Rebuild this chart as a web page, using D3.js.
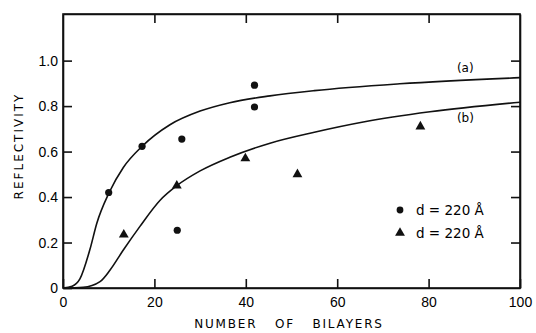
<!DOCTYPE html>
<html>
<head>
<meta charset="utf-8">
<script src="https://cdn.jsdelivr.net/npm/d3@7"></script>
<style>
  body { margin: 0; background: #fff; }
  svg { display: block; font-family: "DejaVu Sans", sans-serif; }
</style>
</head>
<body>
<svg id="chart" width="536" height="333"></svg>
<script>
// points
const circleX = [10, 17.3, 26, 25, 41.9, 41.9];
const circleY = [0.42, 0.623, 0.655, 0.254, 0.796, 0.892];
const triX = [13.3, 24.9, 39.9, 51.3, 78.2];
const triY = [0.235, 0.45, 0.57, 0.50, 0.71];

// fitted curves
const curveAX = [0, 2, 3.7, 5.9, 7.4, 10.1, 13.2, 17.3, 23.4, 30, 36.5, 45.3, 55, 73.7, 100];
const curveAY = [0, 0.008, 0.04, 0.17, 0.285, 0.42, 0.53, 0.623, 0.718, 0.778, 0.815, 0.845, 0.868, 0.898, 0.925];
const curveBX = [0, 4.4, 8.1, 10.3, 13.2, 16.8, 21.2, 24.9, 30, 36.5, 45.3, 55, 65.7, 80.3, 100];
const curveBY = [0, 0.003, 0.028, 0.079, 0.167, 0.27, 0.385, 0.45, 0.515, 0.575, 0.637, 0.685, 0.73, 0.775, 0.817];

const xTicks = [0, 20, 40, 60, 80, 100];
const yTicks = [0, 0.2, 0.4, 0.6, 0.8, 1.0];

const width = 536;
const height = 333;
const marginTop = 14;
const marginRight = 16;
const marginBottom = 45;
const marginLeft = 63;

const svg = d3.select("#chart");

const x = d3.scaleLinear()
  .domain([0, 100])
  .range([marginLeft, width - marginRight]);

const y = d3.scaleLinear()
  .domain([0, 1.205])
  .range([height - marginBottom, marginTop]);

const tickLen = 9;
const tickFmt = d => d === 0 ? "0" : d3.format(".1f")(d);

// bottom axis, ticks pointing inward
svg.append("g")
  .attr("transform", `translate(0,${height - marginBottom})`)
  .call(d3.axisBottom(x).tickValues(xTicks).tickSize(-tickLen).tickPadding(9).tickSizeOuter(0))
  .call(g => g.selectAll("text").attr("font-size", 14).attr("fill", "#000"));

// top axis
svg.append("g")
  .attr("transform", `translate(0,${marginTop})`)
  .call(d3.axisTop(x).tickValues([20, 40, 60, 80]).tickSize(-tickLen).tickFormat("").tickSizeOuter(0));

// left axis
svg.append("g")
  .attr("transform", `translate(${marginLeft},0)`)
  .call(d3.axisLeft(y).tickValues(yTicks).tickSize(-tickLen).tickPadding(5).tickFormat(tickFmt).tickSizeOuter(0))
  .call(g => g.selectAll("text").attr("font-size", 14).attr("fill", "#000"));

// right axis
svg.append("g")
  .attr("transform", `translate(${width - marginRight},0)`)
  .call(d3.axisRight(y).tickValues(yTicks.slice(1)).tickSize(-tickLen).tickFormat("").tickSizeOuter(0));

svg.selectAll(".domain, .tick line")
  .attr("stroke", "#111")
  .attr("stroke-width", 1.6);

svg.append("rect")
  .attr("x", x(0))
  .attr("y", y(1.205))
  .attr("width", x(100) - x(0))
  .attr("height", y(0) - y(1.205))
  .attr("fill", "none")
  .attr("stroke", "#111")
  .attr("stroke-width", 1.6);

// curves
const line = d3.line()
  .x(d => x(d[0]))
  .y(d => y(d[1]))
  .curve(d3.curveMonotoneX);

for (const [xs, ys] of [[curveAX, curveAY], [curveBX, curveBY]]) {
  svg.append("path")
    .datum(d3.zip(xs, ys))
    .attr("d", line)
    .attr("fill", "none")
    .attr("stroke", "#111")
    .attr("stroke-width", 1.6);
}

svg.append("text").attr("x", x(86.2)).attr("y", y(0.95)).attr("font-size", 12).attr("fill", "#000").text("(a)");
svg.append("text").attr("x", x(86.2)).attr("y", y(0.73)).attr("font-size", 12).attr("fill", "#000").text("(b)");

// data markers
svg.append("g").selectAll("circle")
  .data(d3.zip(circleX, circleY))
  .join("circle")
    .attr("cx", d => x(d[0]))
    .attr("cy", d => y(d[1]))
    .attr("r", 3.6)
    .attr("fill", "#111");

const tri = d3.symbol().type(d3.symbolTriangle).size(42);
svg.append("g").selectAll("path")
  .data(d3.zip(triX, triY))
  .join("path")
    .attr("transform", d => `translate(${x(d[0])},${y(d[1])})`)
    .attr("d", tri)
    .attr("fill", "#111");

// legend
const legend = svg.append("g").attr("font-size", 13.5).attr("fill", "#000");
legend.append("circle").attr("cx", 400).attr("cy", 210).attr("r", 3.4).attr("fill", "#111");
legend.append("text").attr("x", 416).attr("y", 215).text("d = 220 Å");
legend.append("path").attr("transform", "translate(400,233)").attr("d", tri).attr("fill", "#111");
legend.append("text").attr("x", 416).attr("y", 238).text("d = 220 Å");

// axis titles
svg.append("text")
  .attr("x", 289).attr("y", 328)
  .attr("text-anchor", "middle")
  .attr("font-size", 12)
  .attr("letter-spacing", 1.8)
  .attr("word-spacing", 12)
  .attr("fill", "#000")
  .text("NUMBER OF BILAYERS");

svg.append("text")
  .attr("transform", "translate(23,146) rotate(-90)")
  .attr("text-anchor", "middle")
  .attr("font-size", 12)
  .attr("letter-spacing", 2)
  .attr("fill", "#000")
  .text("REFLECTIVITY");
</script>
</body>
</html>
